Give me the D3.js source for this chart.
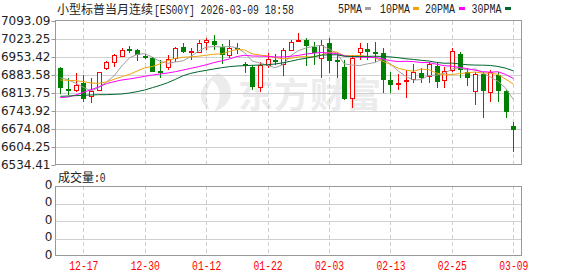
<!DOCTYPE html>
<html><head><meta charset="utf-8">
<script src="https://cdn.jsdelivr.net/npm/d3@7"></script>
<style>body{margin:0;background:#fff;} svg{display:block}</style>
</head><body><svg id="c" width="578" height="276"></svg>
<script>
const dates = ["2025-12-12","2025-12-15","2025-12-16","2025-12-17","2025-12-18","2025-12-19","2025-12-22","2025-12-23","2025-12-24","2025-12-26","2025-12-29","2025-12-30","2025-12-31","2026-01-02","2026-01-05","2026-01-06","2026-01-07","2026-01-08","2026-01-09","2026-01-12","2026-01-13","2026-01-14","2026-01-15","2026-01-16","2026-01-19","2026-01-20","2026-01-21","2026-01-22","2026-01-23","2026-01-26","2026-01-27","2026-01-28","2026-01-29","2026-01-30","2026-02-02","2026-02-03","2026-02-04","2026-02-05","2026-02-06","2026-02-09","2026-02-10","2026-02-11","2026-02-12","2026-02-13","2026-02-16","2026-02-17","2026-02-18","2026-02-19","2026-02-20","2026-02-23","2026-02-24","2026-02-25","2026-02-26","2026-02-27","2026-03-02","2026-03-03","2026-03-04","2026-03-05","2026-03-06","2026-03-09"];
const open  = [6912,6829,6827,6854,6802,6825,6912,6933,6959,6986,6981,6959,6951,6900,6916,6948,6991,6971,6974,7013,7015,6993,6961,6987,6925,6916,6838,6922,6942,6925,6981,7015,7019,6993,6948,7006,6942,6916,6793,6972,6984,6972,6968,6864,6850,6862,6868,6890,6881,6920,6863,6903,6964,6894,6822,6886,6816,6884,6822,6686];
const high  = [6916,6871,6890,6884,6871,6894,6938,6965,6990,6997,6983,6964,6955,6942,6961,6994,7006,6987,7019,7026,7039,7003,7019,7006,6935,6922,6933,6968,6964,6987,7019,7045,7028,7013,7019,7028,6974,6942,6961,7006,7006,7010,6990,6897,6886,6903,6925,6912,6935,6935,6916,6987,6974,6912,6896,6894,6903,6896,6825,6703];
const low   = [6809,6806,6819,6778,6774,6822,6903,6916,6955,6970,6939,6946,6894,6871,6903,6935,6968,6942,6968,6981,6981,6925,6948,6964,6890,6825,6816,6909,6922,6881,6978,7010,6920,6922,6871,6890,6871,6787,6754,6942,6942,6935,6812,6812,6825,6793,6851,6851,6851,6834,6832,6894,6873,6842,6767,6718,6778,6778,6718,6584];
const close = [6832,6822,6845,6789,6822,6894,6933,6961,6981,6981,6961,6948,6894,6897,6944,6987,6972,6975,7006,7018,7000,6961,6987,6982,6920,6838,6922,6944,6935,6981,7010,7019,6997,6968,7000,6938,6937,6790,6948,6987,6972,6964,6864,6845,6853,6864,6894,6873,6925,6858,6899,6977,6903,6873,6886,6822,6894,6822,6739,6670];
const ma5  = [6873.0,6865.0,6852.0,6836.0,6822.0,6834.4,6856.6,6879.8,6918.2,6950.0,6963.4,6966.4,6953.0,6936.2,6928.8,6934.0,6938.8,6955.0,6976.8,6991.6,6994.2,6992.0,6994.4,6989.6,6970.0,6937.6,6929.8,6921.2,6911.8,6924.0,6958.4,6977.8,6988.4,6995.0,6998.8,6984.4,6968.0,6926.6,6922.6,6920.0,6926.8,6932.2,6947.0,6926.4,6899.6,6878.0,6864.0,6865.8,6881.8,6882.8,6889.8,6906.4,6912.4,6902.0,6907.6,6892.2,6875.6,6859.4,6832.6,6789.4];
const ma10 = [6864.2,6862.9,6861.6,6857.8,6852.6,6851.3,6856.4,6866.8,6877.1,6886.0,6898.9,6911.5,6916.4,6927.2,6939.4,6948.7,6952.6,6954.0,6956.5,6960.2,6964.1,6965.4,6974.7,6983.2,6980.8,6965.9,6960.9,6957.8,6950.7,6947.0,6948.0,6953.8,6954.8,6953.4,6961.4,6971.4,6972.9,6957.5,6958.8,6959.4,6955.6,6950.1,6936.8,6924.5,6909.8,6902.4,6898.1,6906.4,6904.1,6891.2,6883.9,6885.2,6889.1,6891.9,6895.2,6891.0,6891.0,6885.9,6867.3,6848.5];
const ma20 = [6795.7,6798.2,6806.0,6816.3,6826.7,6837.0,6850.0,6857.7,6864.2,6868.1,6873.2,6878.4,6883.6,6887.5,6891.4,6896.5,6903.0,6909.5,6915.9,6923.1,6931.5,6938.5,6945.6,6955.2,6960.1,6957.3,6956.8,6955.9,6953.6,6953.6,6956.1,6959.6,6964.8,6968.3,6971.1,6968.7,6966.9,6957.7,6954.8,6953.2,6951.8,6952.0,6945.8,6939.0,6935.6,6936.9,6935.5,6932.0,6931.5,6925.3,6919.8,6917.7,6913.0,6908.2,6902.5,6896.7,6894.6,6896.2,6885.7,6869.9];
const ma30 = [6800.8,6802.1,6803.4,6804.7,6806.0,6807.3,6807.3,6808.6,6809.9,6813.8,6819.0,6825.4,6834.5,6843.5,6853.9,6866.8,6881.0,6890.1,6896.5,6901.7,6906.9,6912.0,6915.9,6918.5,6919.8,6921.1,6922.4,6923.7,6926.3,6931.1,6937.0,6943.6,6948.6,6954.6,6960.5,6962.0,6962.1,6956.4,6955.3,6955.5,6955.9,6956.4,6955.4,6953.7,6950.7,6946.6,6944.0,6940.6,6937.9,6932.5,6929.2,6929.7,6926.9,6923.3,6922.1,6921.6,6920.7,6916.6,6910.1,6899.7];
const yTicks = [6534.41,6604.25,6674.08,6743.92,6813.75,6883.58,6953.42,7023.25,7093.09];
const xTickDates = ["2025-12-17","2025-12-30","2026-01-12","2026-01-22","2026-02-03","2026-02-13","2026-02-25","2026-03-09"];
const volTickLabels = ["0","0","0","0","0"];
const maNames = ["5PMA","10PMA","20PMA","30PMA"];
const maColors = ["#a0a0a0","#f0a30a","#ff00ff","#00662e"];
const titleCn = "小型标普当月连续";
const titleEn = "[ES00Y] 2026-03-09 18:58";

const svg = d3.select("#c");
const L=55.5, R=521.5, T=21, B=165, VT=186, VB=256;
const x = d3.scalePoint().domain(dates).range([60.3, 513.3]);
const y = d3.scaleLinear().domain([yTicks[0], yTicks[yTicks.length-1]]).range([B, T]);
const yv = d3.scaleLinear().domain([0, 4]).range([VB, VT]);
const MONO = "'Liberation Mono', 'DejaVu Sans Mono', monospace";
const CJK = "'Noto Sans CJK SC', sans-serif";
const SANS = "'DejaVu Sans', sans-serif";

function mono(g, px, py, str, anchor, color, sx) {
  return g.append("text").attr("transform", `translate(${px},${py}) scale(${sx||0.81},1)`)
    .attr("text-anchor", anchor||"start").attr("font-family", MONO).attr("font-size", 12)
    .attr("fill", color||"#222").text(str);
}

// watermark
const wm = svg.append("g").attr("fill", "#ececec");
wm.append("path").attr("d", "M218 73 C236 82 236 104 214 112 C222 100 222 88 212 80 C206 90 204 100 210 110 C196 102 198 84 218 73 Z");
wm.append("text").attr("x", 238).attr("y", 108).attr("font-family", CJK).attr("font-weight", 700)
  .attr("font-size", 35).attr("letter-spacing", 1).text("东方财富");

// main grid
const grid = svg.append("g").attr("shape-rendering", "crispEdges");
grid.selectAll(".h").data(yTicks.slice(1, -1)).join("line")
  .attr("x1", L).attr("x2", R).attr("y1", d => Math.round(y(d)) + 0.5).attr("y2", d => Math.round(y(d)) + 0.5)
  .attr("stroke", "#d0d0d0");
grid.selectAll(".v").data(xTickDates).join("line")
  .attr("x1", d => Math.round(x(d)) + 0.5).attr("x2", d => Math.round(x(d)) + 0.5)
  .attr("y1", T).attr("y2", B).attr("stroke", "#cfcfcf").attr("stroke-dasharray", "4,3");
// volume grid
grid.selectAll(".vh").data([1,2,3]).join("line")
  .attr("x1", L).attr("x2", R).attr("y1", d => Math.round(yv(d)) + 0.5).attr("y2", d => Math.round(yv(d)) + 0.5)
  .attr("stroke", "#d0d0d0");
grid.selectAll(".vv").data(xTickDates).join("line")
  .attr("x1", d => Math.round(x(d)) + 0.5).attr("x2", d => Math.round(x(d)) + 0.5)
  .attr("y1", VT).attr("y2", VB).attr("stroke", "#cfcfcf").attr("stroke-dasharray", "4,3");

// candles
const cg = svg.append("g").attr("shape-rendering", "crispEdges");
dates.forEach((d, i) => {
  const cx = Math.round(x(d));
  const up = close[i] >= open[i];
  const col = up ? "#ff0000" : "#008000";
  const yt = Math.round(y(Math.max(open[i], close[i])));
  const yb = Math.round(y(Math.min(open[i], close[i])));
  const yh = Math.round(y(high[i])), yl = Math.round(y(low[i]));
  if (up) {
    cg.append("line").attr("x1", cx + 0.5).attr("x2", cx + 0.5).attr("y1", yh).attr("y2", yt).attr("stroke", col);
    cg.append("line").attr("x1", cx + 0.5).attr("x2", cx + 0.5).attr("y1", Math.max(yb, yt + 1)).attr("y2", yl).attr("stroke", col);
    cg.append("rect").attr("x", cx - 1.5).attr("y", yt + 0.5).attr("width", 4).attr("height", Math.max(yb - yt, 1))
      .attr("fill", "#fff").attr("stroke", col);
  } else {
    cg.append("line").attr("x1", cx + 0.5).attr("x2", cx + 0.5).attr("y1", yh).attr("y2", yl).attr("stroke", col);
    cg.append("rect").attr("x", cx - 2).attr("y", yt).attr("width", 5).attr("height", Math.max(yb - yt, 2))
      .attr("fill", col);
  }
});

// moving averages
[ma5, ma10, ma20, ma30].forEach((arr, k) => {
  svg.append("path").datum(arr)
    .attr("d", d3.line().x((v, i) => x(dates[i])).y(v => y(v)))
    .attr("fill", "none").attr("stroke", maColors[k]).attr("stroke-width", 1);
});

// borders
svg.append("rect").attr("x", L).attr("y", T - 0.5).attr("width", R - L).attr("height", B - T)
  .attr("fill", "none").attr("stroke", "#999").attr("shape-rendering", "crispEdges");
svg.append("rect").attr("x", L).attr("y", VT + 0.5).attr("width", R - L).attr("height", VB - VT - 1)
  .attr("fill", "none").attr("stroke", "#999").attr("shape-rendering", "crispEdges");

// y axis
const ya = svg.append("g").attr("transform", `translate(${L},0)`)
  .call(d3.axisLeft(y).tickValues(yTicks).tickFormat(d3.format(".2f")).tickSize(4).tickPadding(1));
ya.select(".domain").remove();
ya.selectAll(".tick line").attr("stroke", "#999");
ya.selectAll(".tick text").attr("font-family", SANS).attr("font-size", 12).attr("fill", "#222");

const va = svg.append("g").attr("transform", `translate(${L},0)`)
  .call(d3.axisLeft(yv).tickValues([0,1,2,3,4]).tickFormat(i => volTickLabels[i]).tickSize(0).tickPadding(3));
va.select(".domain").remove();
va.selectAll(".tick text").attr("font-family", SANS).attr("font-size", 12).attr("fill", "#222").attr("dy", "0.2em");

// x axis labels
const xa = svg.append("g").attr("transform", `translate(0,${VB})`)
  .call(d3.axisBottom(x).tickValues(xTickDates).tickFormat(d => d.slice(5)).tickSize(0));
xa.select(".domain").remove();
xa.selectAll(".tick text").attr("y", 14).attr("dy", 0).attr("font-family", MONO).attr("font-size", 12)
  .attr("fill", "#ff0000").attr("transform", "scale(0.81,1)");

// title
svg.append("text").attr("x", 57).attr("y", 14).attr("font-family", CJK).attr("font-size", 12).attr("fill", "#222").text(titleCn);
mono(svg, 154, 14, titleEn, "start", "#222", 0.81);

// legend
const legX = [338, 380, 425, 471.5];
const swX = [365, 413, 459, 505];
maNames.forEach((n, k) => {
  mono(svg, legX[k], 13, n, "start", "#222", 0.83);
  svg.append("rect").attr("x", swX[k]).attr("y", 7).attr("width", 6).attr("height", 3).attr("fill", maColors[k]);
});

// volume title
svg.append("text").attr("x", 58).attr("y", 182).attr("font-family", CJK).attr("font-size", 12).attr("fill", "#222").text("成交量");
mono(svg, 94, 182, ":0", "start", "#222", 0.81);
</script></body></html>
